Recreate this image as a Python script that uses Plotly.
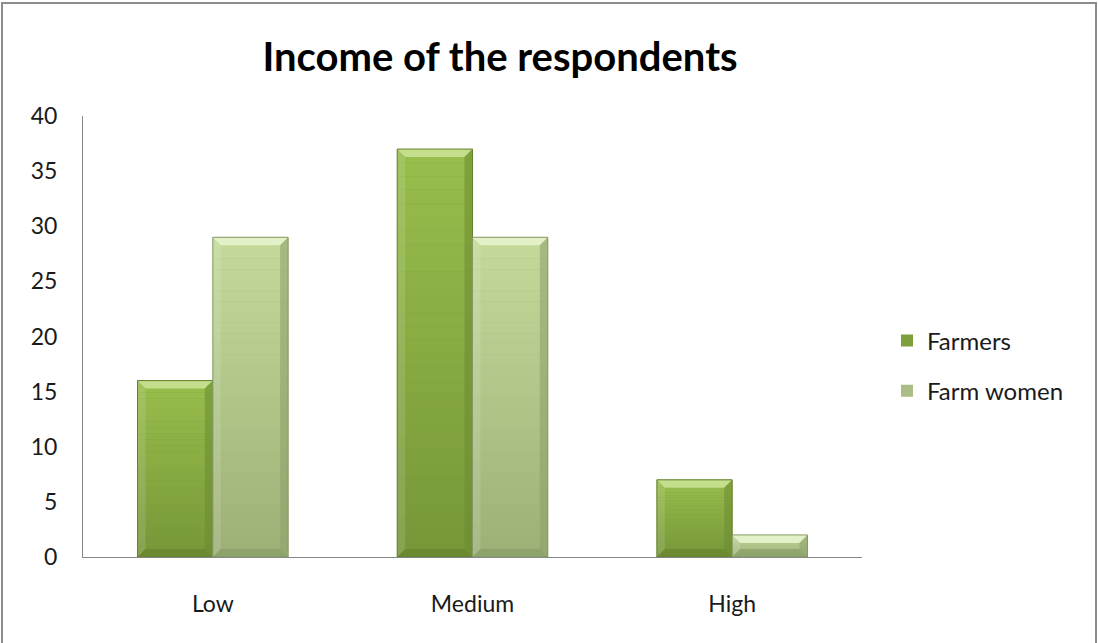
import plotly.graph_objects as go

# Income distribution of respondents
categories = ["Low", "Medium", "High"]
farmers = [16, 37, 7]
farm_women = [29, 29, 2]
y_ticks = [0, 5, 10, 15, 20, 25, 30, 35, 40]

series = [
    # name, values, top colour, bottom colour, bevel light, bevel dark, legend colour
    ("Farmers", farmers, (152, 190, 76), (118, 150, 56), (185, 216, 120), (92, 120, 40), "#7f9f3e"),
    ("Farm women", farm_women, (196, 218, 154), (156, 176, 118), (222, 238, 192), (122, 142, 92), "#a9bd85"),
]

BAR_GAP = 0.42
bar_w = (1 - BAR_GAP) / len(series)
x_idx = list(range(len(categories)))

fig = go.Figure()

for k, (name, vals, *_rest, legend_col) in enumerate(series):
    fig.add_trace(go.Bar(
        name=name,
        legendgroup=name,
        x=x_idx,
        y=vals,
        marker=dict(color=legend_col, line=dict(width=0)),
        hoverinfo="x+y+name",
    ))

fig.update_layout(barmode="group", bargap=BAR_GAP, bargroupgap=0)


def mix(a, b, t):
    return "rgb(%d,%d,%d)" % tuple(round(a[i] + (b[i] - a[i]) * t) for i in range(3))


# Gradient fill and bevelled edges for each bar, in data coordinates
shapes = []
px_x = 1 / 259.7      # one pixel in category units
px_y = 40 / 441.0     # one pixel in value units
dx = 8 * px_x
dy = 8 * px_y
n_slices = 30
for k, (name, vals, top, bot, light, dark, _lc) in enumerate(series):
    offset = (k - (len(series) - 1) / 2) * bar_w
    for i, v in enumerate(vals):
        x0 = x_idx[i] + offset - bar_w / 2
        x1 = x_idx[i] + offset + bar_w / 2
        for s in range(n_slices):
            y0 = v * s / n_slices
            y1 = v * (s + 1) / n_slices
            t = (s + 0.5) / n_slices
            shapes.append(dict(type="rect", xref="x", yref="y", x0=x0, x1=x1,
                               y0=y0, y1=y1, line=dict(width=0),
                               fillcolor=mix(bot, top, t), layer="above"))
        ddy = min(dy, v / 2.5)
        # top bevel (light)
        shapes.append(dict(type="path", xref="x", yref="y", layer="above",
                           path=f"M{x0},{v} L{x1},{v} L{x1-dx},{v-ddy} L{x0+dx},{v-ddy} Z",
                           fillcolor=mix(light, (255, 255, 255), 0.15), line=dict(width=0)))
        # left bevel (slightly light)
        shapes.append(dict(type="path", xref="x", yref="y", layer="above",
                           path=f"M{x0},{v} L{x0+dx},{v-ddy} L{x0+dx},{ddy} L{x0},0 Z",
                           fillcolor="rgba(255,255,255,0.12)", line=dict(width=0)))
        # right bevel (dark)
        shapes.append(dict(type="path", xref="x", yref="y", layer="above",
                           path=f"M{x1},{v} L{x1-dx},{v-ddy} L{x1-dx},{ddy} L{x1},0 Z",
                           fillcolor=mix(dark, top, 0.25), opacity=0.55, line=dict(width=0)))
        # bottom bevel (dark)
        shapes.append(dict(type="path", xref="x", yref="y", layer="above",
                           path=f"M{x0},0 L{x1},0 L{x1-dx},{ddy} L{x0+dx},{ddy} Z",
                           fillcolor=mix(dark, bot, 0.3), opacity=0.6, line=dict(width=0)))
        # outline
        shapes.append(dict(type="rect", xref="x", yref="y", layer="above",
                           x0=x0, x1=x1, y0=0, y1=v,
                           line=dict(width=1, color=mix(dark, bot, 0.3)),
                           fillcolor="rgba(0,0,0,0)"))

# Chart border
L, R, T, B = 83, 236, 116, 86
pw = 1098 - L - R
ph = 643 - T - B
shapes.append(dict(type="rect", xref="paper", yref="paper",
                   x0=(2 - L) / pw, x1=(1096 - L) / pw,
                   y0=(643 - B - 660) / ph, y1=(643 - B - 3) / ph,
                   line=dict(color="#8c8c8c", width=2), fillcolor="rgba(0,0,0,0)",
                   layer="below"))

fig.update_layout(
    shapes=shapes,
    width=1098, height=643,
    margin=dict(l=L, r=R, t=T, b=B),
    paper_bgcolor="white", plot_bgcolor="white",
    font=dict(family="Lato, Carlito, sans-serif", color="#1a1a1a"),
    title=dict(text="<b>Income of the respondents</b>", x=(500 - L) / pw, xref="paper",
               xanchor="center", y=1 - 57 / 643, yref="container", yanchor="middle",
               font=dict(size=40, color="#000000")),
    showlegend=True,
    legend=dict(x=(887 - L) / pw, y=(557 - 366) / ph, xanchor="left", yanchor="middle",
                font=dict(size=24, color="#1a1a1a"), tracegroupgap=16,
                traceorder="grouped",
                itemsizing="constant", bgcolor="rgba(0,0,0,0)"),
)

fig.update_xaxes(
    range=[-0.5, len(categories) - 0.5],
    tickvals=x_idx, ticktext=categories,
    showline=True, linecolor="#868686", linewidth=1,
    showgrid=False, zeroline=False, ticks="",
    tickfont=dict(size=23, color="#1a1a1a"), ticklabelstandoff=26,
)
fig.update_yaxes(
    range=[0, 40], tickvals=y_ticks,
    showline=True, linecolor="#868686", linewidth=1,
    showgrid=False, zeroline=False, ticks="",
    tickfont=dict(size=23, color="#1a1a1a"), ticklabelstandoff=20,
)

fig.write_html("out.html")
